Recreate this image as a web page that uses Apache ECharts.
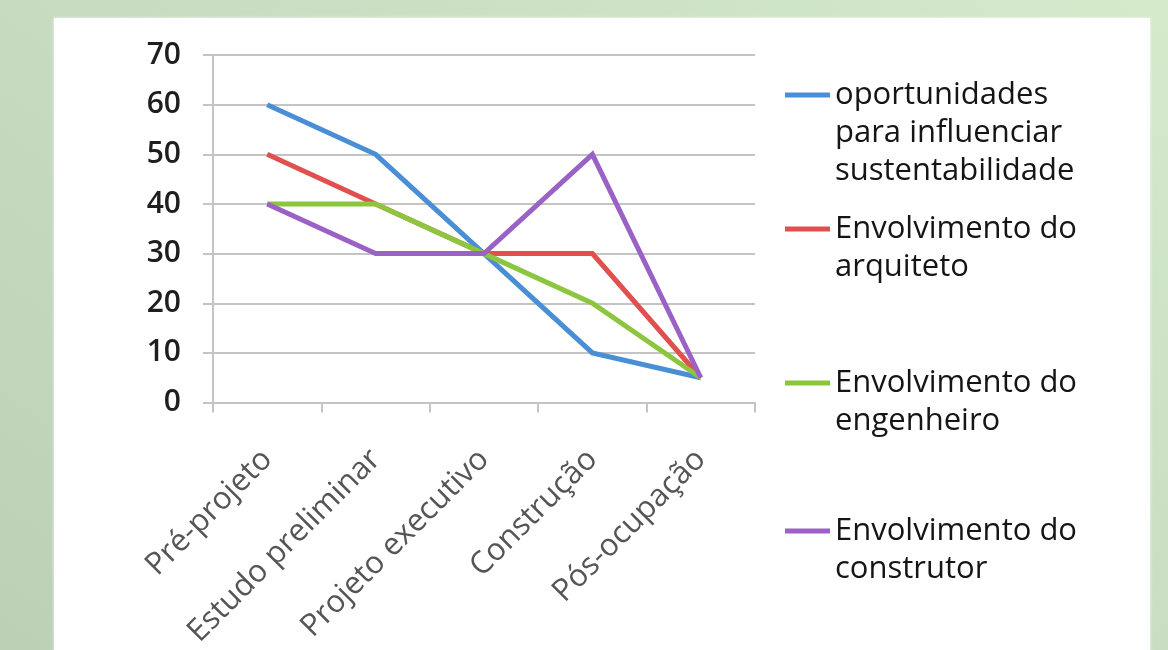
<!DOCTYPE html>
<html>
<head>
<meta charset="utf-8">
<script src="https://cdn.jsdelivr.net/npm/echarts@6/dist/echarts.min.js"></script>
<style>
  html, body { margin: 0; padding: 0; }
  body {
    width: 1168px; height: 650px; overflow: hidden; position: relative;
    background: linear-gradient(35deg, #bcd0b6 0%, #c6dbbf 45%, #d4eacb 100%);
  }
  #panel {
    position: absolute; left: 54px; top: 18px; width: 1096px; height: 640px;
    background: #ffffff;
    box-shadow: 0 0 3px rgba(255,255,255,0.8);
  }
  #chart { position: absolute; left: 0; top: 0; width: 1168px; height: 650px; }
</style>
</head>
<body>
<div id="panel"></div>
<div id="chart"></div>
<script>
// Project phases along the x axis
const phases = ['Pré-projeto', 'Estudo preliminar', 'Projeto executivo', 'Construção', 'Pós-ocupação'];

// One list per curve
const oportunidades = [60, 50, 30, 10, 5];
const arquiteto     = [50, 40, 30, 30, 5];
const engenheiro    = [40, 40, 30, 20, 5];
const construtor    = [40, 30, 30, 50, 5];

const seriesNames = [
  'oportunidades\npara influenciar\nsustentabilidade',
  'Envolvimento do\narquiteto',
  'Envolvimento do\nengenheiro',
  'Envolvimento do\nconstrutor'
];
const seriesColors = ['#4a8fd6', '#e0504f', '#8cc63f', '#9a62c4'];
const yTicks = { min: 0, max: 70, interval: 10 };

const FONT = '"Open Sans", "DejaVu Sans", sans-serif';
const LH = 38;               // legend line height
const legendIconY = [95, 229, 383, 531];

const chart = echarts.init(document.getElementById('chart'), null, { renderer: 'canvas' });

// each legend entry is its own block; blank lines above the label keep the
// swatch level with the first line of text
const legends = seriesNames.map(function (name, i) {
  const n = name.split('\n').length;
  return {
    data: [name],
    orient: 'vertical',
    left: 785,
    top: legendIconY[i] - (n - 0.5) * LH,
    padding: 0,
    icon: 'rect',
    itemWidth: 45,
    itemHeight: 5,
    selectedMode: false,
    formatter: function (label) {
      return '\n'.repeat(n - 1) + label;
    },
    textStyle: {
      fontFamily: FONT,
      fontSize: 31,
      color: '#151515',
      lineHeight: LH
    }
  };
});

const values = [oportunidades, arquiteto, engenheiro, construtor];

chart.setOption({
  animation: false,
  backgroundColor: 'transparent',
  legend: legends,
  grid: { left: 213, right: 413, top: 55, bottom: 246, containLabel: false },
  xAxis: {
    type: 'category',
    data: phases,
    boundaryGap: true,
    axisLine: { show: true, lineStyle: { color: '#c4c4c4', width: 2 } },
    axisTick: { show: true, length: 10, lineStyle: { color: '#c4c4c4', width: 2 } },
    axisLabel: {
      rotate: 45,
      margin: 52,
      interval: 0,
      fontFamily: FONT,
      fontSize: 31,
      color: '#555555'
    },
    splitLine: { show: false }
  },
  yAxis: {
    type: 'value',
    min: yTicks.min,
    max: yTicks.max,
    interval: yTicks.interval,
    axisLine: { show: true, lineStyle: { color: '#c4c4c4', width: 2 } },
    axisTick: { show: true, length: 10, lineStyle: { color: '#c4c4c4', width: 2 } },
    axisLabel: {
      margin: 32,
      fontFamily: FONT,
      fontSize: 30,
      fontWeight: 600,
      color: '#1e1e1e'
    },
    splitLine: { show: true, lineStyle: { color: '#c4c4c4', width: 2 } }
  },
  series: values.map(function (vals, i) {
    return {
      name: seriesNames[i],
      type: 'line',
      data: vals,
      symbol: 'none',
      color: seriesColors[i],
      lineStyle: { width: 5, color: seriesColors[i], join: 'miter' }
    };
  })
});
</script>
</body>
</html>
